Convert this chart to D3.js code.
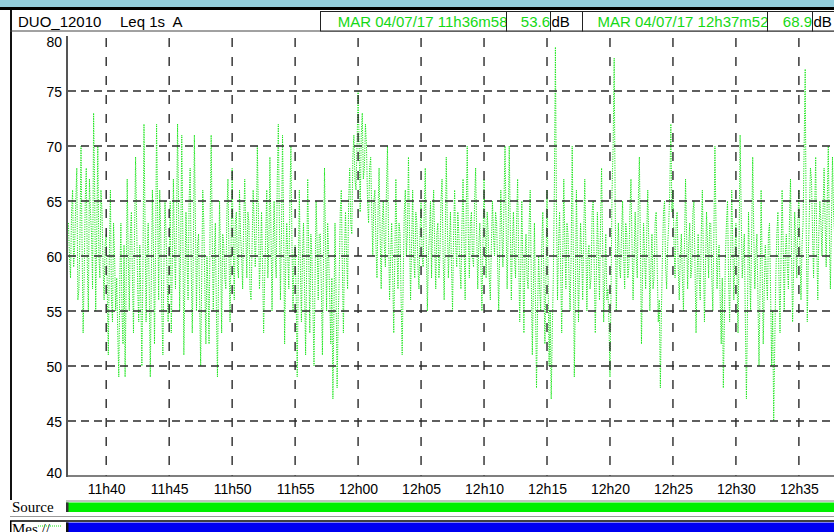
<!DOCTYPE html>
<html><head><meta charset="utf-8">
<script src="https://cdn.jsdelivr.net/npm/d3@7"></script>
<style>body{margin:0;background:#fff;overflow:hidden}svg{display:block}</style>
</head><body>
<svg id="c" width="834" height="532"></svg>
<script>
// ---- data ----
const instrument = "DUO_12010";
const indicator = "Leq 1s  A";
const startLabel = "MAR 04/07/17 11h36m58";
const startValue = "53.6";
const endLabel = "MAR 04/07/17 12h37m52";
const endValue = "68.9";
const unit = "dB";
const sourceLabel = "Source";
const mesLabel = "Mes //";
const yTicks = [40,45,50,55,60,65,70,75,80];
const xTickLabels = ["11h40","11h45","11h50","11h55","12h00","12h05","12h10","12h15","12h20","12h25","12h30","12h35"];
const seriesStart = "11h37m00";
const stepSeconds = 5;
// Leq 1s A (dB), one reading every 5 s from 11h37m00 (12 per minute)
const levels = [
63,60,58,64,66,59,61,65,68,56,57,62,
70,61,53,58,65,68,59,55,67,64,62,57,
73,66,55,62,70,60,58,66,64,59,56,61,
62,57,51,60,66,56,54,63,60,55,58,53,
49,58,63,55,52,61,49,57,67,60,55,62,
64,58,53,62,69,63,57,54,61,56,50,59,
72,63,54,60,63,57,49,58,66,61,52,60,
72,64,56,66,62,55,51,59,65,62,58,54,
60,65,53,59,67,61,57,63,72,64,55,61,
71,62,51,58,64,60,56,65,68,59,53,60,
71,63,55,61,62,56,50,58,66,63,57,52,
60,57,52,63,71,62,55,60,63,55,49,58,
65,60,53,62,61,58,57,64,67,60,54,61,
68,61,56,63,64,59,58,66,62,60,57,63,
67,62,58,64,63,57,56,61,66,63,59,62,
70,64,57,60,64,59,53,58,62,66,58,61,
69,62,55,61,65,60,58,67,72,63,56,62,
71,63,52,59,63,60,57,65,70,61,55,60,
61,56,49,58,66,59,54,60,63,57,51,59,
67,60,53,62,60,55,50,58,65,61,56,62,
62,57,51,59,68,61,55,63,60,56,52,58,
47,55,63,57,48,54,58,64,66,59,53,60,
64,60,57,65,68,63,62,69,71,67,66,70,
75,70,64,71,73,67,68,72,70,65,63,68,
69,64,60,65,66,61,58,64,68,62,57,63,
65,61,59,66,70,62,56,60,63,58,53,60,
67,61,57,63,62,56,51,58,64,66,60,62,
69,62,56,61,66,60,58,64,63,59,57,62,
65,60,59,64,68,61,55,60,62,65,58,63,
66,61,57,62,63,58,60,65,67,60,56,61,
69,63,58,61,64,59,55,62,66,61,59,64,
62,59,57,63,67,61,56,64,70,62,58,63,
64,60,59,65,68,62,57,61,63,59,55,61,
67,62,58,64,62,58,56,61,65,62,60,64,
63,59,55,61,66,62,59,65,70,63,57,62,
70,63,56,61,64,60,58,63,67,60,54,59,
65,59,53,60,62,58,57,63,66,58,51,57,
63,56,48,55,60,57,55,61,64,58,52,58,
66,58,50,55,47,53,58,66,79,64,56,61,
64,59,53,60,67,61,57,63,62,58,55,60,
70,61,49,56,66,60,54,59,63,60,56,62,
67,61,55,60,61,57,58,64,65,59,53,58,
64,60,56,63,68,61,54,58,62,56,57,54,
49,57,66,70,78,64,55,60,63,59,58,62,
65,60,57,63,62,58,59,64,67,61,56,60,
64,60,58,65,69,61,52,58,63,60,57,62,
66,61,55,59,62,57,58,63,64,59,54,56,
48,55,60,64,65,59,57,61,63,66,72,64,
66,61,58,63,64,59,56,60,62,58,55,61,
67,62,57,61,63,58,59,64,65,59,53,58,
62,58,56,62,66,60,54,59,64,61,58,63,
63,58,55,62,70,63,57,60,61,56,52,58,
48,54,60,63,65,58,54,60,66,61,56,60,
63,58,53,61,71,64,58,60,62,54,47,55,
64,59,55,62,69,62,57,60,62,56,50,57,
66,59,52,57,61,58,56,62,63,57,50,55,
45,52,58,62,64,58,53,60,66,61,55,60,
62,59,57,63,67,60,54,59,64,61,58,63,
66,60,56,61,63,70,77,62,54,60,64,68,
67,62,58,64,69,61,56,62,65,63,60,64,
68,63,59,65,70,62,57,63,69,64,62,66,
67,62,58,64,68,63,60,65,70,66,63,67
];

(function(){
function parseHM(s){
  const m = s.match(/(\d+)h(\d+)(?:m(\d+))?/);
  return new Date(2017,6,4,+m[1],+m[2],m[3]?+m[3]:0);
}
const t0 = parseHM(startLabel.split(" ")[2]);
const t1 = parseHM(endLabel.split(" ")[2]);
const s0 = parseHM(seriesStart);
const data = levels.map((v,i)=>({t:new Date(s0.getTime()+i*stepSeconds*1000), v}));

const svg = d3.select("#c");
const W = 834, H = 532;
const pL = 68, pR = 835, pT = 36, pB = 476;

const x = d3.scaleTime().domain([t0,t1]).range([pL,pR]);
const y = d3.scaleLinear().domain([40,80]).range([pB,pT]);

// ---- frame / header ----
svg.append("rect").attr("x",0).attr("y",0).attr("width",W).attr("height",7).attr("fill","#92cddc");
svg.append("rect").attr("x",0).attr("y",7).attr("width",W).attr("height",3).attr("fill","#000");
svg.append("rect").attr("x",10).attr("y",10).attr("width",2).attr("height",490).attr("fill","#111");
svg.append("line").attr("x1",10).attr("x2",W).attr("y1",31).attr("y2",31).attr("stroke","#444").attr("stroke-width",1);

const hdrFont = "'Liberation Sans', Arial, sans-serif";
svg.append("text").attr("x",18).attr("y",27).attr("font-family",hdrFont).attr("font-size",15).attr("fill","#000").text(instrument);
svg.append("text").attr("x",120).attr("y",27).attr("font-family",hdrFont).attr("font-size",15).attr("fill","#000").style("white-space","pre").text(indicator);

const boxes = [
  {x0:320.5,x1:506.5,text:startLabel,color:"#15d815",dx:1},
  {x0:506.5,x1:550.5,text:startValue,color:"#15d815",dx:-0.5},
  {x0:550.5,x1:582.5,text:unit,color:"#000",alignLeft:true},
  {x0:582.5,x1:767.5,text:endLabel,color:"#15d815",dx:1},
  {x0:767.5,x1:812.5,text:endValue,color:"#15d815",dx:-0.5},
  {x0:812.5,x1:840,text:unit,color:"#000",alignLeft:true}
];
boxes.forEach(b=>{
  svg.append("rect").attr("x",b.x0).attr("y",11.5).attr("width",b.x1-b.x0).attr("height",19.5)
    .attr("fill","#fff").attr("stroke","#222").attr("stroke-width",1);
  svg.append("text").attr("x",b.alignLeft? b.x0+1 : b.x1+b.dx).attr("y",27)
    .attr("text-anchor",b.alignLeft?"start":"end")
    .attr("font-family",hdrFont).attr("font-size",15).attr("fill",b.color).text(b.text);
});

// ---- data line ----
svg.append("clipPath").attr("id","pc").append("rect").attr("x",pL).attr("y",pT-2).attr("width",W-pL).attr("height",pB-pT+2);
const line = d3.line().x(d=>x(d.t)).y(d=>y(d.v));
svg.append("path").datum(data).attr("clip-path","url(#pc)")
  .attr("d",line).attr("fill","none").attr("stroke","#19e619").attr("stroke-width",1)
  .attr("stroke-dasharray","1.2,1.2");

// ---- grid ----
const grid = svg.append("g");
yTicks.filter(v=>v>40 && v<80).forEach(v=>{
  grid.append("line").attr("x1",pL).attr("x2",W).attr("y1",y(v)).attr("y2",y(v))
    .attr("stroke","#2a2a2a").attr("stroke-width",1.4).attr("stroke-dasharray","8,5");
});
xTickLabels.forEach(l=>{
  const xx = x(parseHM(l));
  grid.append("line").attr("x1",xx).attr("x2",xx).attr("y1",pT).attr("y2",pB)
    .attr("stroke","#2a2a2a").attr("stroke-width",1.4).attr("stroke-dasharray","9,10").attr("stroke-dashoffset",-2);
});

// ---- axes ----
svg.append("line").attr("x1",67).attr("x2",67).attr("y1",pT).attr("y2",pB+1).attr("stroke","#555").attr("stroke-width",2);
svg.append("line").attr("x1",66).attr("x2",W).attr("y1",pB).attr("y2",pB).attr("stroke","#555").attr("stroke-width",1.5);

const yAxis = d3.axisLeft(y).tickValues(yTicks).tickSize(0).tickPadding(5);
const ya = svg.append("g").attr("transform","translate(67,0)").call(yAxis);
ya.select(".domain").remove();
ya.selectAll("text").attr("font-family",hdrFont).attr("font-size",14).attr("fill","#000")
  .attr("dy",null).attr("dominant-baseline","central")
  .attr("y",v=>{const p=y(v); return Math.min(Math.max(p,pT+5),pB-4)-y(v);});

const xAxis = d3.axisBottom(x).tickValues(xTickLabels.map(parseHM)).tickSize(0).tickPadding(8)
  .tickFormat((d,i)=>xTickLabels[i]);
const xa = svg.append("g").attr("transform",`translate(0,${pB})`).call(xAxis);
xa.select(".domain").remove();
xa.selectAll("text").attr("font-family",hdrFont).attr("font-size",14).attr("fill","#000");

// ---- bottom bars ----
const serif = "'Liberation Serif','Times New Roman',serif";
svg.append("line").attr("x1",66).attr("x2",W).attr("y1",501).attr("y2",501).attr("stroke","#888").attr("stroke-width",1);
svg.append("rect").attr("x",66).attr("y",502.5).attr("width",W-66).attr("height",9.5).attr("fill","#00f000");
svg.append("rect").attr("x",66).attr("y",502.5).attr("width",2.5).attr("height",9.5).attr("fill","#333");
svg.append("text").attr("x",12).attr("y",512).attr("font-family",serif).attr("font-size",15).attr("fill","#000").text(sourceLabel);

svg.append("line").attr("x1",10).attr("x2",W).attr("y1",516.5).attr("y2",516.5).attr("stroke","#999").attr("stroke-width",1);
svg.append("line").attr("x1",10).attr("x2",W).attr("y1",521).attr("y2",521).attr("stroke","#000").attr("stroke-width",1.5);
svg.append("rect").attr("x",10).attr("y",521).attr("width",1.5).attr("height",11).attr("fill","#000");
svg.append("rect").attr("x",66).attr("y",522.5).attr("width",W-66).attr("height",10).attr("fill","#0000f0");
svg.append("rect").attr("x",66).attr("y",522.5).attr("width",2.5).attr("height",10).attr("fill","#111");
svg.append("text").attr("x",12).attr("y",534).attr("font-family",serif).attr("font-size",15).attr("fill","#000").text(mesLabel);
svg.append("line").attr("x1",38).attr("x2",62).attr("y1",526).attr("y2",526).attr("stroke","#19e619").attr("stroke-width",1).attr("stroke-dasharray","1,1");
})();
</script>
</body></html>
